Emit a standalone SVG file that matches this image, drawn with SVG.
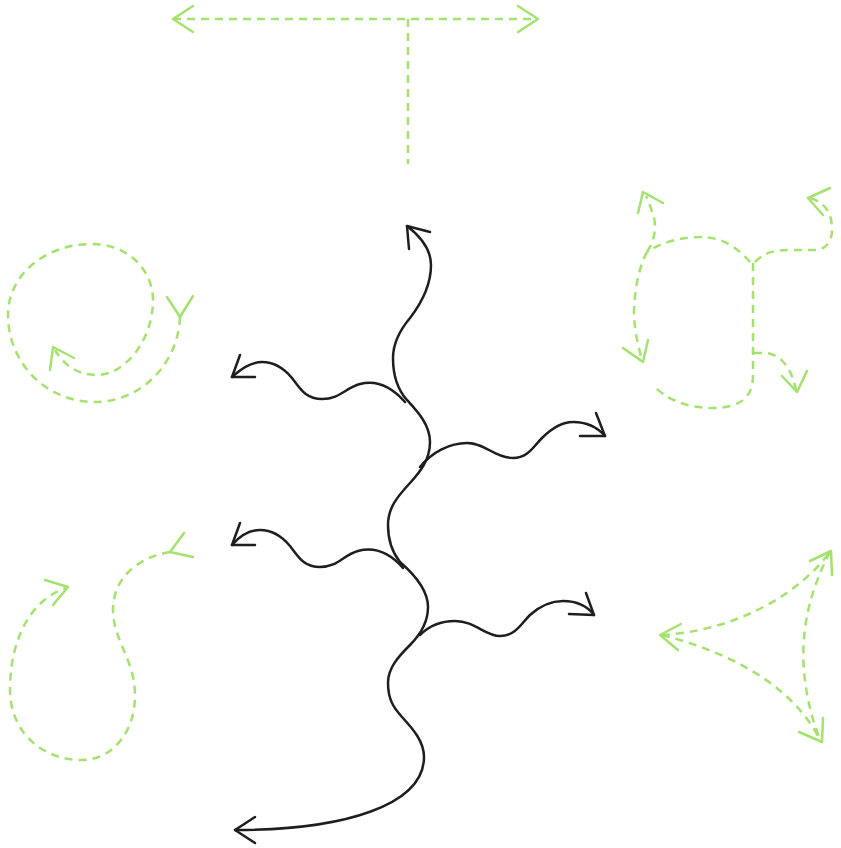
<svg xmlns="http://www.w3.org/2000/svg" width="841" height="848" viewBox="0 0 841 848">
<style>
.k{fill:none;stroke:#1e1e1e;stroke-width:2.5;stroke-linecap:round;stroke-linejoin:round}
.g{fill:none;stroke:#a3e26f;stroke-width:2.5;stroke-dasharray:8 6;stroke-linecap:butt}
.gh{fill:none;stroke:#a3e26f;stroke-width:2.5;stroke-linecap:round;stroke-linejoin:round}
</style>
<rect width="841" height="848" fill="#fff"/>
<g id="tree">
<path class="k" d="M407,226 C420,236 431,250 431,265 C431,285 420,305 410,318 C400,330 393,343 393,358 C393,375 398,390 407,400 C418,412 430,425 430,442 C430,460 420,472 410,483 C397,497 388,508 388,525 C388,540 392,552 400,562 C415,575 428,590 428,607 C428,622 420,635 410,645 C398,657 388,668 388,683 C388,700 394,708 402,717 C414,730 424,742 424,757 C424,805 345,830 235,830"/>
<path class="k" d="M409,249 L407,226 L430,232"/>
<path class="k" d="M255,817 L235,830 L255,843"/>
<path class="k" d="M405,402 C390,385 375,380 360,384 C345,388 340,399 322,399 C305,399 300,388 292,378 C282,366 272,362 262,362 C250,362 240,370 232,377"/>
<path class="k" d="M240,355 L232,377 L255,377"/>
<path class="k" d="M403,568 C388,551 373,547 358,551 C343,555 338,567 320,567 C303,567 298,556 290,546 C280,534 270,530 260,530 C248,530 238,538 232,545"/>
<path class="k" d="M240,523 L232,545 L255,545"/>
<path class="k" d="M420,467 C432,452 450,443 467,443 C485,443 495,458 513,458 C528,458 533,447 542,438 C552,428 562,422 573,422 C588,422 598,428 605,436"/>
<path class="k" d="M596,413 L605,436 L580,436"/>
<path class="k" d="M420,635 C430,625 442,621 455,621 C475,621 485,636 500,636 C515,636 520,625 530,615 C540,606 550,601 563,601 C578,601 588,607 594,615"/>
<path class="k" d="M586,593 L594,615 L569,614"/>
</g>
<g id="t-shape">
<path class="g" d="M173,19 L538,19"/>
<path class="g" d="M408,19 L408,164"/>
<path class="gh" d="M193,6 L173,19 L193,32"/>
<path class="gh" d="M518,6 L538,19 L518,32"/>
</g>
<g id="spiral">
<path class="g" d="M180,317 C178,365 140,402 95,402 C45,402 8,362 8,315 C8,275 45,244 92,244 C130,244 153,272 153,300 C153,340 125,375 97,375 C80,375 66,368 55,350"/>
<path class="gh" d="M167,297 L180,317 L193,296"/>
<path class="gh" d="M50,370 L53,347 L74,358"/>
</g>
<g id="branches">
<path class="g" d="M753,263 L753,375 C753,398 740,408 712,408 C685,408 665,398 653,385"/>
<path class="g" d="M750,262 C735,245 720,237 700,237 C680,237 660,243 647,252"/>
<path class="g" d="M647,252 C655,240 657,225 653,215 C651,208 648,200 646,196"/>
<path class="gh" d="M638,213 L643,192 L663,203"/>
<path class="g" d="M647,252 C640,265 635,285 634,310 C634,330 638,345 642,360"/>
<path class="gh" d="M623,348 L643,362 L648,340"/>
<path class="g" d="M755,262 C765,252 775,250 790,250 L815,250 C825,250 832,242 832,230 C832,212 825,203 810,198"/>
<path class="gh" d="M830,188 L808,198 L823,215"/>
<path class="g" d="M754,353 L767,353 C782,355 792,370 796,390"/>
<path class="gh" d="M782,376 L797,392 L807,371"/>
</g>
<g id="s-curve">
<path class="g" d="M170,552 C135,558 113,580 113,610 C113,640 135,660 135,695 C135,735 110,760 82,760 C40,760 10,730 10,690 C10,640 30,600 66,588"/>
<path class="gh" d="M184,533 L170,552 L193,557"/>
<path class="gh" d="M45,580 L68,587 L53,605"/>
</g>
<g id="triangle">
<path class="g" d="M662,635 C720,632 790,605 830,552"/>
<path class="g" d="M662,635 C720,650 790,680 820,740"/>
<path class="g" d="M830,552 C805,600 790,660 820,740"/>
<path class="gh" d="M681,624 L660,635 L678,650"/>
<path class="gh" d="M810,561 L831,551 L832,575"/>
<path class="gh" d="M799,732 L822,742 L823,718"/>
</g>
</svg>
